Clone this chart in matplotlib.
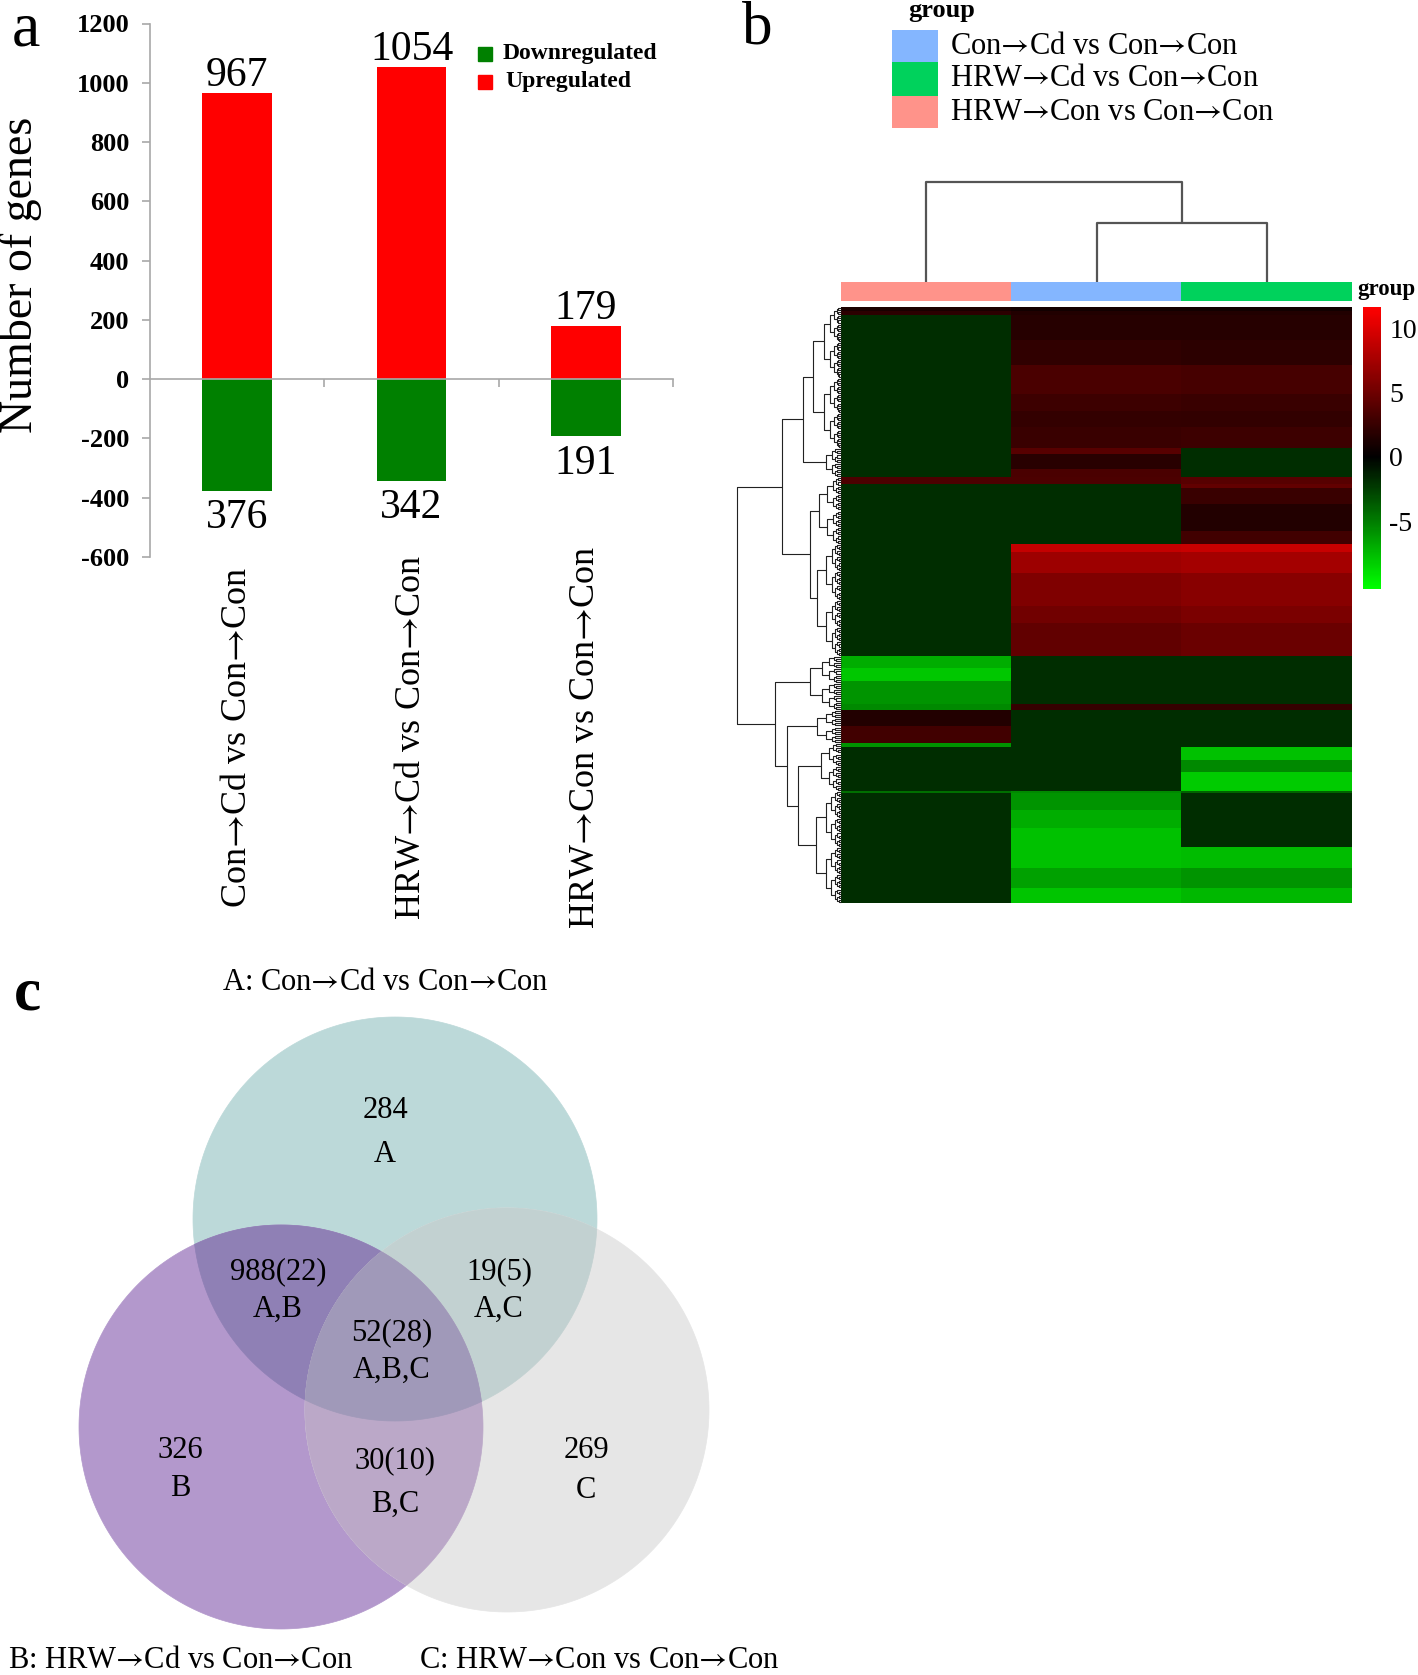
import numpy as np
import matplotlib
matplotlib.use("Agg")
import matplotlib.pyplot as plt
from matplotlib.colors import LinearSegmentedColormap, Normalize, ListedColormap
from matplotlib.patches import Rectangle, Polygon
import matplotlib.transforms as mtrans

# ---------------- data ----------------
comparisons = ["Con→Cd vs Con→Con", "HRW→Cd vs Con→Con", "HRW→Con vs Con→Con"]
upregulated = [967, 1054, 179]
downregulated = [376, 342, 191]
yticks_a = [-600, -400, -200, 0, 200, 400, 600, 800, 1000, 1200]

# heatmap columns (left to right): HRW→Con, Con→Cd, HRW→Cd (each vs Con→Con)
heat_columns = ["HRW→Con vs Con→Con", "Con→Cd vs Con→Con", "HRW→Cd vs Con→Con"]
heat_column_colors = ["#ff938a", "#84b6ff", "#00d25c"]
block_rows = [2, 2, 12, 12, 14, 8, 8, 10, 3, 7, 4, 3, 2, 8, 13, 6, 4, 10, 16, 8, 16,
              6, 6, 11, 3, 8, 8, 2, 6, 6, 9, 1, 8, 9, 9, 10, 10, 7]
block_salmon = [1.2, 2.0, -1.8, -1.8, -1.8, -1.8, -1.8, -1.8, -1.8, -1.8, -1.8, 3.5, -1.8,
                -1.8, -1.8, -1.8, -1.8, -1.8, -1.8, -1.8, -1.8, -7.0, -8.0, -6.0, -5.5,
                1.6, 3.0, -6.0, -1.8, -1.8, -1.8, -4.5, -1.8, -1.8, -1.8, -1.8, -1.8, -1.8]
block_blue = [0.8, 1.5, 1.8, 2.2, 3.4, 2.8, 2.4, 2.6, 4.0, 1.9, 3.4, 3.5, -1.8,
              -1.8, -1.8, -1.8, 9.0, 7.2, 5.8, 5.2, 4.4, -1.8, -1.8, -1.8, 2.5,
              -1.8, -1.8, -1.8, -1.8, -1.8, -1.8, -5.5, -6.0, -7.0, -7.8, -7.8, -6.5, -7.9]
block_green = [0.8, 1.5, 1.8, 2.0, 3.2, 2.6, 2.3, 2.8, -1.8, -1.8, -1.8, 4.0, 4.5,
               2.6, 1.6, 3.0, 9.2, 7.5, 6.2, 5.6, 4.9, -1.8, -1.8, -1.8, 2.5,
               -1.8, -1.8, -1.8, -7.8, -5.5, -8.2, -4.0, -1.8, -1.8, -1.8, -7.6, -6.0, -7.4]
heat_vmin, heat_vmax = -10.3, 11.7
cbar_ticks = [10, 5, 0, -5]
col_link_heights = [59, 100]   # (Con→Cd + HRW→Cd), then + HRW→Con

# row dendrogram: ('n', height, left, right) / ('l', first_row, last_row, height)
row_tree = ('n', 104,
            ('n', 59,
             ('n', 38, ('l', 0, 68, 28), ('l', 68, 82, 15)),
             ('n', 31, ('l', 82, 114, 22), ('l', 114, 168, 24))),
            ('n', 66,
             ('l', 168, 194, 31),
             ('n', 54,
              ('l', 194, 210, 24),
              ('n', 43, ('l', 210, 233, 20), ('l', 233, 287, 25)))))

venn_set_labels = ["A: Con→Cd vs Con→Con", "B: HRW→Cd vs Con→Con", "C: HRW→Con vs Con→Con"]
venn_regions = ["A", "A,B", "A,C", "A,B,C", "B", "B,C", "C"]
venn_counts = ["284", "988(22)", "19(5)", "52(28)", "326", "30(10)", "269"]

# ---------------- figure ----------------
W, H = 1418, 1675
plt.rcParams["font.family"] = ["Liberation Serif", "DejaVu Serif"]
plt.rcParams["mathtext.fontset"] = "stix"
plt.rcParams["axes.unicode_minus"] = False
fig = plt.figure(figsize=(W / 100, H / 100), dpi=100)


def arrowfmt(s):
    # render the arrow with the Times-like STIX glyph (long arrow as in the original)
    return s.replace("→", "$→$")


def px_axes(x0, y0, x1, y1):
    a = fig.add_axes([x0 / W, 1 - y1 / H, (x1 - x0) / W, (y1 - y0) / H])
    a.set_facecolor("none")
    return a


# ---------- panel a ----------
ax = px_axes(150, 23.5, 673, 557)
xc = np.arange(len(comparisons)) + 0.5
ax.bar(xc, upregulated, 0.4, color="#ff0000", zorder=2)
ax.bar(xc, [-d for d in downregulated], 0.4, color="#008000", zorder=2)
ax.set_xlim(0, 3)
ax.set_ylim(-600, 1200)
ax.set_yticks(yticks_a)
ax.set_yticklabels([str(t) for t in yticks_a], fontweight="bold", fontsize=19)
ax.tick_params(axis="y", direction="out", length=6, width=1.2, color="#a8a8a8", pad=9)
ax.set_xticks([1, 2, 3])
ax.set_xticklabels([])
ax.tick_params(axis="x", direction="out", length=6, width=1.2, color="#a8a8a8")
for s in ["top", "right"]:
    ax.spines[s].set_visible(False)
ax.spines["left"].set_color("#a8a8a8")
ax.spines["left"].set_linewidth(1.2)
ax.spines["bottom"].set_position(("data", 0))
ax.spines["bottom"].set_color("#a8a8a8")
ax.spines["bottom"].set_linewidth(1.2)
for xi, u in zip(xc, upregulated):
    ax.annotate(str(u), (xi, u), xytext=(0, 5), textcoords="offset points",
                ha="center", va="baseline", fontsize=30)
for xi, d in zip(xc, downregulated):
    ax.annotate(str(d), (xi, -d), xytext=(0, -6), textcoords="offset points",
                ha="center", va="top", fontsize=30)
blend = mtrans.blended_transform_factory(ax.transData, fig.transFigure)
for xi, lab in zip(xc, comparisons):
    ax.text(xi, 1 - 737 / H, arrowfmt(lab), transform=blend, rotation=90, ha="center",
            va="center", fontsize=26)
fig.text(21 / W, 1 - 275 / H, "Number of genes", rotation=90, ha="center",
         va="center", fontsize=33)

# ---------- panel b ----------
cmap = LinearSegmentedColormap.from_list(
    "gbr", [(0.0, (0, 1, 0)), (-heat_vmin / (heat_vmax - heat_vmin), (0, 0, 0)), (1.0, (1, 0, 0))])
norm = Normalize(heat_vmin, heat_vmax)
data = np.repeat(np.array([block_salmon, block_blue, block_green]).T, block_rows, axis=0)
nrows = data.shape[0]

axh = px_axes(841, 307, 1352, 903)
im = axh.imshow(data, aspect="auto", cmap=cmap, norm=norm, interpolation="nearest")
axh.axis("off")

# column annotation bar
axc = px_axes(841, 282, 1352, 301)
axc.imshow([[0, 1, 2]], aspect="auto", cmap=ListedColormap(heat_column_colors),
           interpolation="nearest")
axc.axis("off")

# column dendrogram
axd = px_axes(841, 178, 1352, 282)
axd.set_xlim(0, 3)
axd.set_ylim(0, 104)
dk = dict(color="#555555", lw=1.6, clip_on=False, solid_capstyle="butt")
axd.plot([1.5, 1.5, 2.5, 2.5], [0, col_link_heights[0], col_link_heights[0], 0], **dk)
axd.plot([0.5, 0.5, 2.0, 2.0], [0, col_link_heights[1], col_link_heights[1], col_link_heights[0]], **dk)
axd.axis("off")

# row dendrogram
axr = px_axes(733, 307, 841, 903)
axr.set_xlim(108, 0)
axr.set_ylim(nrows, 0)
axr.axis("off")
rk = dict(color="#222222", lw=0.8, clip_on=False, solid_capstyle="butt")


def draw_leafgroup(a, b, h):
    if b - a <= 1:
        return a + 0.5, 0.0
    m = (a + b) // 2
    y1, h1 = draw_leafgroup(a, m, h * 0.62)
    y2, h2 = draw_leafgroup(m, b, h * 0.62)
    axr.plot([h1, h, h, h2], [y1, y1, y2, y2], **rk)
    return (y1 + y2) / 2, h


def draw_node(node):
    if node[0] == 'l':
        return draw_leafgroup(node[1], node[2], node[3])
    _, h, left, right = node
    y1, h1 = draw_node(left)
    y2, h2 = draw_node(right)
    axr.plot([h1, h, h, h2], [y1, y1, y2, y2], **rk)
    return (y1 + y2) / 2, h


draw_node(row_tree)

# colorbar
cax = px_axes(1363, 307, 1381, 589)
cb = fig.colorbar(im, cax=cax, ticks=cbar_ticks)
cb.outline.set_visible(False)
cax.tick_params(length=0, labelsize=20, pad=6)

# ---------- overlay (text, legends, venn) ----------
ov = fig.add_axes([0, 0, 1, 1])
ov.set_xlim(0, W)
ov.set_ylim(H, 0)
ov.axis("off")

ov.text(26, 30, "a", fontsize=46, ha="center", va="center")
ov.text(757, 29, "b", fontsize=44, ha="center", va="center")
ov.text(27, 994, "c", fontsize=44, ha="center", va="center", fontweight="bold")

# legend a
ov.add_patch(Rectangle((478, 47), 14, 14, color="#008000"))
ov.add_patch(Rectangle((478, 75), 14, 14, color="#ff0000"))
ov.text(503, 54, "Downregulated", fontsize=17, fontweight="bold", va="center")
ov.text(505, 82, "Upregulated", fontsize=17, fontweight="bold", va="center")

# legend b
ov.text(908, 10, "group", fontsize=19, fontweight="bold", va="center")
leg_order = [1, 2, 0]
leg_y = [(30, 62), (62, 96), (96, 128)]
for (y0, y1), ci in zip(leg_y, leg_order):
    ov.add_patch(Rectangle((892, y0), 46, y1 - y0, color=heat_column_colors[ci], lw=0))
    ov.text(950, (y0 + y1) / 2, arrowfmt(heat_columns[ci]), fontsize=22, va="center")
ov.text(1357, 290, "group", fontsize=16.5, fontweight="bold", va="center")

# venn
R = 202
centers = {"A": (395, 1219), "B": (281, 1427), "C": (507, 1410)}
t = np.linspace(0, 2 * np.pi, 361)[:-1]


def circ(c):
    return np.column_stack([c[0] + R * np.cos(t), c[1] + R * np.sin(t)])


def clip(subject, clipper):
    out = [tuple(p) for p in subject]
    n = len(clipper)
    for i in range(n):
        ax_, ay_ = clipper[i - 1]
        bx_, by_ = clipper[i]
        inp = out
        out = []
        if not inp:
            break
        for j in range(len(inp)):
            px_, py_ = inp[j - 1]
            qx_, qy_ = inp[j]
            cp = (bx_ - ax_) * (py_ - ay_) - (by_ - ay_) * (px_ - ax_)
            cq = (bx_ - ax_) * (qy_ - ay_) - (by_ - ay_) * (qx_ - ax_)
            if cq >= 0:
                if cp < 0:
                    s = cp / (cp - cq)
                    out.append((px_ + s * (qx_ - px_), py_ + s * (qy_ - py_)))
                out.append((qx_, qy_))
            elif cp >= 0:
                s = cp / (cp - cq)
                out.append((px_ + s * (qx_ - px_), py_ + s * (qy_ - py_)))
    return np.array(out)


CA, CB, CC = circ(centers["A"]), circ(centers["B"]), circ(centers["C"])
region_colors = {"A": "#bcd9d9", "B": "#b398cc", "C": "#e6e6e6",
                 "AB": "#8f80b5", "AC": "#c2d1d1", "BC": "#bba8c8", "ABC": "#a099b9"}
for poly, key in [(CA, "A"), (CB, "B"), (CC, "C"),
                  (clip(CA, CB), "AB"), (clip(CA, CC), "AC"), (clip(CB, CC), "BC"),
                  (clip(clip(CA, CB), CC), "ABC")]:
    ov.add_patch(Polygon(poly, closed=True, facecolor=region_colors[key],
                         edgecolor=region_colors[key], lw=0.5))

venn_pos = {"A": (385, 1111, 1154), "A,B": (278, 1272, 1309), "A,C": (499, 1272, 1309),
            "A,B,C": (392, 1333, 1370), "B": (180, 1450, 1489), "B,C": (395, 1461, 1504),
            "C": (586, 1450, 1491)}
for reg, cnt in zip(venn_regions, venn_counts):
    x, y1, y2 = venn_pos[reg]
    ov.text(x, y1, cnt, fontsize=22, ha="center", va="center")
    ov.text(x, y2, reg, fontsize=22, ha="center", va="center")

ov.text(385, 983, arrowfmt(venn_set_labels[0]), fontsize=22, ha="center", va="center")
ov.text(181, 1660, arrowfmt(venn_set_labels[1]), fontsize=22, ha="center", va="center")
ov.text(599, 1660, arrowfmt(venn_set_labels[2]), fontsize=22, ha="center", va="center")

fig.savefig("out.png", dpi=100)
